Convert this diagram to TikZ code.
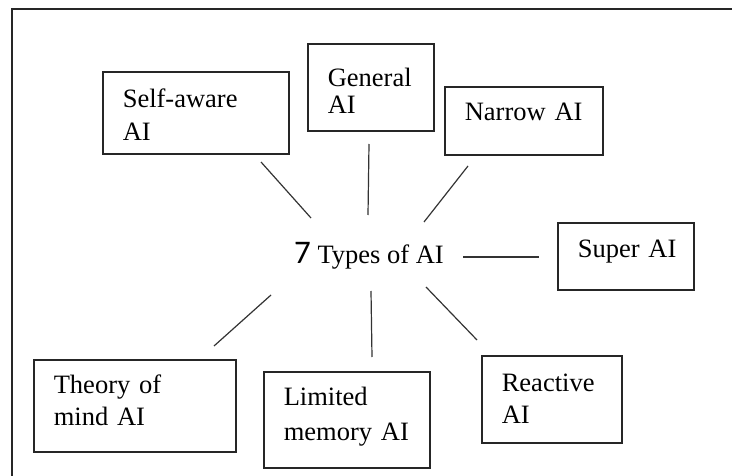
\documentclass[tikz,border=0pt]{standalone}
\usepackage{fontspec}
\setmainfont{Liberation Serif}
\newfontfamily\sevenfont{Carlito}
\begin{document}
\begin{tikzpicture}[x=1pt,y=-1pt,
  box/.style={draw=black!85, line width=1.6pt, anchor=north west, inner xsep=20pt, inner ysep=0pt, align=left},
  boxfont/.style={font=\fontsize{26.5}{#1}\selectfont},
  spoke/.style={draw=black!80, line width=1.2pt},
  frameline/.style={draw=black!85, line width=2.2pt}]
\useasboundingbox (0,0) rectangle (732,476);
\draw[frameline] (12,476) -- (12,9) -- (732,9);

\node[box, boxfont=33, text width=146pt, text height=36pt, text depth=46pt] (selfaware) at (102,71) {Self-aware\\AI};
\node[box, boxfont=27, text width=86pt, text height=43pt, text depth=44pt] (general) at (307,43) {General\\AI};
\node[box, boxfont=33, text width=118pt, text height=34pt, text depth=34pt] (narrow) at (444,86) {Narrow~AI};
\node[box, boxfont=33, text width=96pt, text height=35pt, text depth=32pt] (super) at (557,222) {Super~AI};
\node[box, boxfont=32, text width=162pt, text height=34pt, text depth=58pt] (theory) at (33,359) {Theory~of\\mind~AI};
\node[box, boxfont=35, text width=126pt, text height=34pt, text depth=62pt] (limited) at (263,371) {Limited\\memory~AI};
\node[box, boxfont=32, text width=100pt, text height=36pt, text depth=51pt] (reactive) at (481,355) {Reactive\\AI};

\node[anchor=base west, inner sep=0pt, font=\fontsize{26.5}{33}\selectfont] (hub) at (294,264) {{\sevenfont\fontsize{33}{33}\selectfont 7} Types of AI};

\coordinate (sa1) at (261,162); \coordinate (sa2) at (311,218);
\coordinate (ge1) at (369,144); \coordinate (ge2) at (368,215);
\coordinate (na1) at (468,166); \coordinate (na2) at (424,222);
\coordinate (su1) at (463,257); \coordinate (su2) at (539,257);
\coordinate (re1) at (426,287); \coordinate (re2) at (477,340);
\coordinate (li1) at (371,291); \coordinate (li2) at (372,357);
\coordinate (th1) at (271,295); \coordinate (th2) at (214,346);

\draw[spoke] (sa1) -- (sa2);
\draw[spoke] (ge1) -- (ge2);
\draw[spoke] (na1) -- (na2);
\draw[spoke] (su1) -- (su2);
\draw[spoke] (re1) -- (re2);
\draw[spoke] (li1) -- (li2);
\draw[spoke] (th1) -- (th2);
\end{tikzpicture}
\end{document}
